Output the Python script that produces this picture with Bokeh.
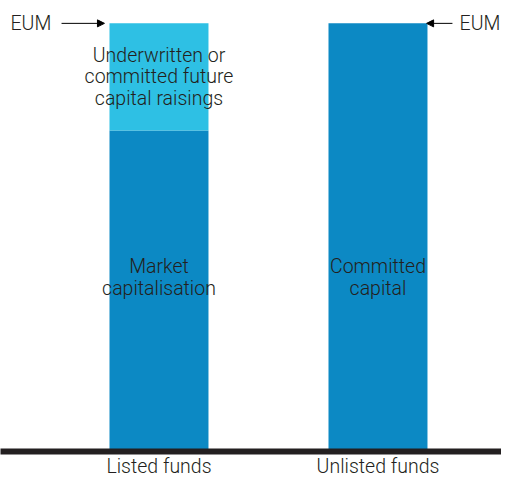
from bokeh.plotting import figure
from bokeh.models import Range1d, FixedTicker, Arrow, NormalHead, ColumnDataSource
from bokeh.core.properties import value
from bokeh.embed import file_html
from bokeh.resources import INLINE

categories = ["Listed funds", "Unlisted funds"]
base_values = [75, 100]          # market capitalisation / committed capital
extra_values = [25, 0]           # underwritten or committed future capital raisings
base_labels = ["Market\ncapitalisation", "Committed\ncapital"]
extra_labels = ["Underwritten or\ncommitted future\ncapital raisings", ""]
marker_label = "EUM"

DARK = "#0c89c4"
LIGHT = "#2ec0e4"
TXT = "#231f20"
FONT = "Roboto Light, Liberation Sans"
FS = "19.5px"

xs = list(range(len(categories)))
totals = [b + e for b, e in zip(base_values, extra_values)]

p = figure(width=501, height=480, output_backend="svg", toolbar_location=None,
           x_range=Range1d(-0.7237, 1.564), y_range=Range1d(0, 105.34),
           y_axis_location=None, min_border_left=0, min_border_right=0,
           min_border_top=0, min_border_bottom=24)
p.outline_line_color = None
p.grid.visible = False
p.background_fill_color = "white"

src_base = ColumnDataSource(dict(x=xs, top=base_values))
p.vbar(x="x", top="top", bottom=0, width=0.452, source=src_base,
       fill_color=DARK, line_color=None)

ex_idx = [i for i, e in enumerate(extra_values) if e > 0]
src_extra = ColumnDataSource(dict(x=[xs[i] for i in ex_idx],
                                  bottom=[base_values[i] for i in ex_idx],
                                  top=[totals[i] for i in ex_idx]))
p.vbar(x="x", top="top", bottom="bottom", width=0.452, source=src_extra,
       fill_color=LIGHT, line_color=None)

# labels inside the bars
src_ex_lbl = ColumnDataSource(dict(x=[xs[i] for i in ex_idx],
                                   y=[base_values[i] + extra_values[i] / 2 for i in ex_idx],
                                   t=[extra_labels[i] for i in ex_idx]))
p.text(x="x", y="y", text="t", source=src_ex_lbl, text_align="center",
       text_baseline="middle", text_font=value(FONT), text_font_size=FS,
       text_color=TXT, text_line_height=0.95)

src_base_lbl = ColumnDataSource(dict(x=xs, y=[40.7] * len(xs), t=base_labels))
p.text(x="x", y="y", text="t", source=src_base_lbl, text_align="center",
       text_baseline="middle", text_font=value(FONT), text_font_size=FS,
       text_color=TXT, text_line_height=0.95)

# EUM markers
p.add_layout(Arrow(end=NormalHead(size=7, fill_color="black", line_color="black", line_width=1),
                   x_start=-0.445, y_start=totals[0], x_end=-0.249, y_end=totals[0],
                   line_color="black", line_width=1))
p.add_layout(Arrow(end=NormalHead(size=7, fill_color="black", line_color="black", line_width=1),
                   x_start=1.34, y_start=totals[1], x_end=1.222, y_end=totals[1],
                   line_color="black", line_width=1))
p.text(x=[-0.678], y=[totals[0]], text=[marker_label], text_align="left",
       text_baseline="middle", text_font=value(FONT), text_font_size=FS, text_color=TXT)
p.text(x=[1.559], y=[totals[1]], text=[marker_label], text_align="right",
       text_baseline="middle", text_font=value(FONT), text_font_size=FS, text_color=TXT)

ax = p.xaxis[0]
ax.ticker = FixedTicker(ticks=xs)
ax.major_label_overrides = {x: c for x, c in zip(xs, categories)}
ax.major_tick_line_color = None
ax.minor_tick_line_color = None
ax.major_tick_out = 0
ax.major_tick_in = 0
ax.axis_line_color = TXT
ax.axis_line_width = 6
ax.major_label_standoff = 3
ax.major_label_text_font = FONT
ax.major_label_text_font_size = FS
ax.major_label_text_color = TXT

open("out.html", "w").write(file_html(p, INLINE))
